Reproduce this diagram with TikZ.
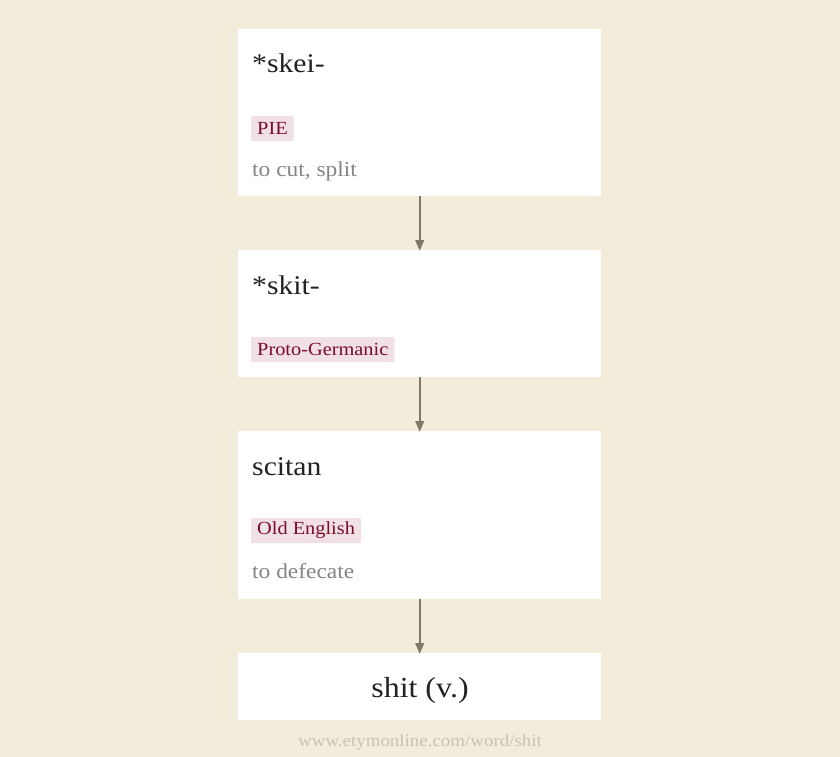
\documentclass[tikz,border=0pt]{standalone}
\usepackage{fontspec}
\usepackage{tikz}
\usepackage{xcolor}
\usetikzlibrary{arrows.meta}
\setmainfont[FakeStretch=1.1]{Liberation Serif}
\definecolor{paper}{HTML}{F2ECDB}
\definecolor{tagfill}{HTML}{F1E1E4}
\definecolor{tagtext}{HTML}{7B0C2E}
\definecolor{glosstext}{HTML}{858585}
\definecolor{wordtext}{HTML}{222222}
\definecolor{arrowgray}{HTML}{7D7867}
\definecolor{foottext}{HTML}{C8C2B2}

\begin{document}
\begin{tikzpicture}[x=1pt,y=-1pt]
			\fill[paper] (0,0) rectangle (840,757);
			\useasboundingbox (0,0) rectangle (840,757);
			\tikzstyle{card}=[fill=white,draw=none,anchor=north west,minimum width=363pt,inner sep=0pt]
			\tikzstyle{word}=[anchor=base west,inner sep=0pt,text=wordtext,font=\fontsize{27}{32}\selectfont]
			\tikzstyle{lang}=[anchor=west,fill=tagfill,text=tagtext,inner xsep=6pt,inner ysep=0pt,minimum height=25pt,rounded corners=1pt,font=\fontsize{18.5}{22}\selectfont]
			\tikzstyle{gloss}=[anchor=base west,inner sep=0pt,text=glosstext,font=\fontsize{21.3}{25}\selectfont]
			\tikzstyle{link}=[arrowgray,line width=2.4pt,-{Triangle[length=11pt,width=8.5pt]}]
			% cards
			\node[card,minimum height=167pt] (skei) at (238,29) {};
			\node[card,minimum height=127pt] (skit) at (238,250) {};
			\node[card,minimum height=168pt] (scitan) at (238,431) {};
			\node[card,minimum height=67pt] (shit) at (238,653) {};
			% texts
			\node[word] (skeiw) at (252,73) {*skei-};
			\node[lang] (skeil) at (251,128.5) {PIE};
			\node[gloss] (skeig) at (252,176) {to cut, split};
			\node[word] (skitw) at (252,294) {*skit-};
			\node[lang] (skitl) at (251,349.5) {Proto-Germanic};
			\node[word] (scitanw) at (252,475) {scitan};
			\node[lang] (scitanl) at (251,530.5) {Old English};
			\node[gloss] (scitang) at (252,578) {to defecate};
			\node[word,anchor=base,font=\fontsize{29}{34}\selectfont] (shitw) at (420,697) {shit (v.)};
			\node[anchor=base,inner sep=0pt,text=foottext,font=\fontsize{17.2}{20}\selectfont] (foot) at (420,746) {www.etymonline.com/word/shit};
			% links
			\draw[link] (skei.south) -- ([yshift=-1pt]skit.north);
			\draw[link] (skit.south) -- ([yshift=-1pt]scitan.north);
			\draw[link] (scitan.south) -- ([yshift=-1pt]shit.north);
		\end{tikzpicture}
\end{document}
